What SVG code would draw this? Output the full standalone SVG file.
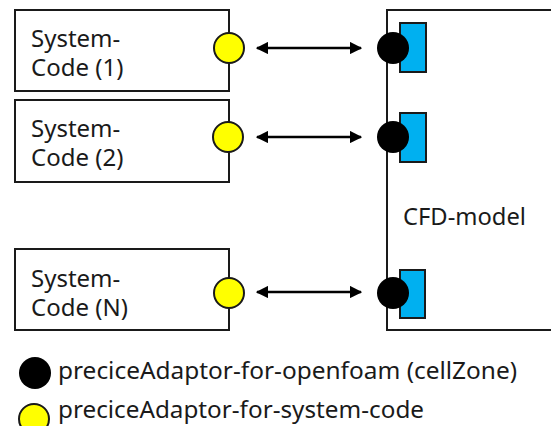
<svg xmlns="http://www.w3.org/2000/svg" width="551" height="426" viewBox="0 0 551 426">
  <style>
    .box { fill: #ffffff; stroke: #1a1a1a; stroke-width: 2; }
    .lbl { font-family: "Noto Sans", "Open Sans", "Liberation Sans", sans-serif; font-size: 24px; fill: #1a1a1a; }
    .sys { fill: #ffff00; stroke: #1a1a1a; stroke-width: 2; }
    .foam { fill: #000000; }
    .zone { fill: #00b0f0; stroke: #1a1a1a; stroke-width: 2; }
    .link { stroke: #000000; stroke-width: 2.5; fill: none; marker-start: url(#head); marker-end: url(#head); }
  </style>
  <defs>
    <marker id="head" viewBox="0 0 10 10" refX="9" refY="5" markerWidth="5" markerHeight="5" orient="auto-start-reverse" markerUnits="strokeWidth">
      <path d="M0,0 L10,5 L0,10 z" fill="#000000"/>
    </marker>
  </defs>

  <!-- CFD model block (extends past the right edge) -->
  <g id="cfd-model">
    <rect class="box" x="387" y="10" width="200" height="320"/>
    <text class="lbl" x="403" y="225" textLength="123" lengthAdjust="spacingAndGlyphs">CFD-model</text>
    <rect class="zone" x="400" y="23" width="26" height="49"/>
    <circle class="foam" cx="393" cy="48" r="16"/>
    <rect class="zone" x="400" y="113" width="26" height="49"/>
    <circle class="foam" cx="393" cy="137" r="16"/>
    <rect class="zone" x="400" y="270" width="25" height="48"/>
    <circle class="foam" cx="393" cy="293" r="16"/>
  </g>

  <g id="system-code-1">
    <rect class="box" x="15" y="10" width="214" height="81"/>
    <text class="lbl"><tspan x="31" y="47">System-</tspan><tspan x="31" y="76">Code (1)</tspan></text>
    <circle class="sys" cx="229" cy="48" r="15"/>
  </g>

  <g id="system-code-2">
    <rect class="box" x="15" y="100" width="214" height="82"/>
    <text class="lbl"><tspan x="31" y="137">System-</tspan><tspan x="31" y="166">Code (2)</tspan></text>
    <circle class="sys" cx="228" cy="137" r="15"/>
  </g>

  <g id="system-code-n">
    <rect class="box" x="15" y="249" width="214" height="81"/>
    <text class="lbl"><tspan x="31" y="287">System-</tspan><tspan x="31" y="316">Code (N)</tspan></text>
    <circle class="sys" cx="229" cy="293" r="15"/>
  </g>

  <!-- coupling links between system codes and the CFD model -->
  <g id="connectors">
    <line class="link" x1="257" y1="48" x2="361" y2="48"/>
    <line class="link" x1="257" y1="137" x2="361" y2="137"/>
    <line class="link" x1="257" y1="292" x2="361" y2="292"/>
  </g>

  <g id="legend">
    <circle class="foam" cx="35" cy="373" r="16"/>
    <text class="lbl" x="58" y="379" textLength="459" lengthAdjust="spacingAndGlyphs">preciceAdaptor-for-openfoam (cellZone)</text>
    <circle class="sys" cx="34" cy="419" r="15"/>
    <text class="lbl" x="58" y="418" textLength="366" lengthAdjust="spacingAndGlyphs">preciceAdaptor-for-system-code</text>
  </g>
</svg>
